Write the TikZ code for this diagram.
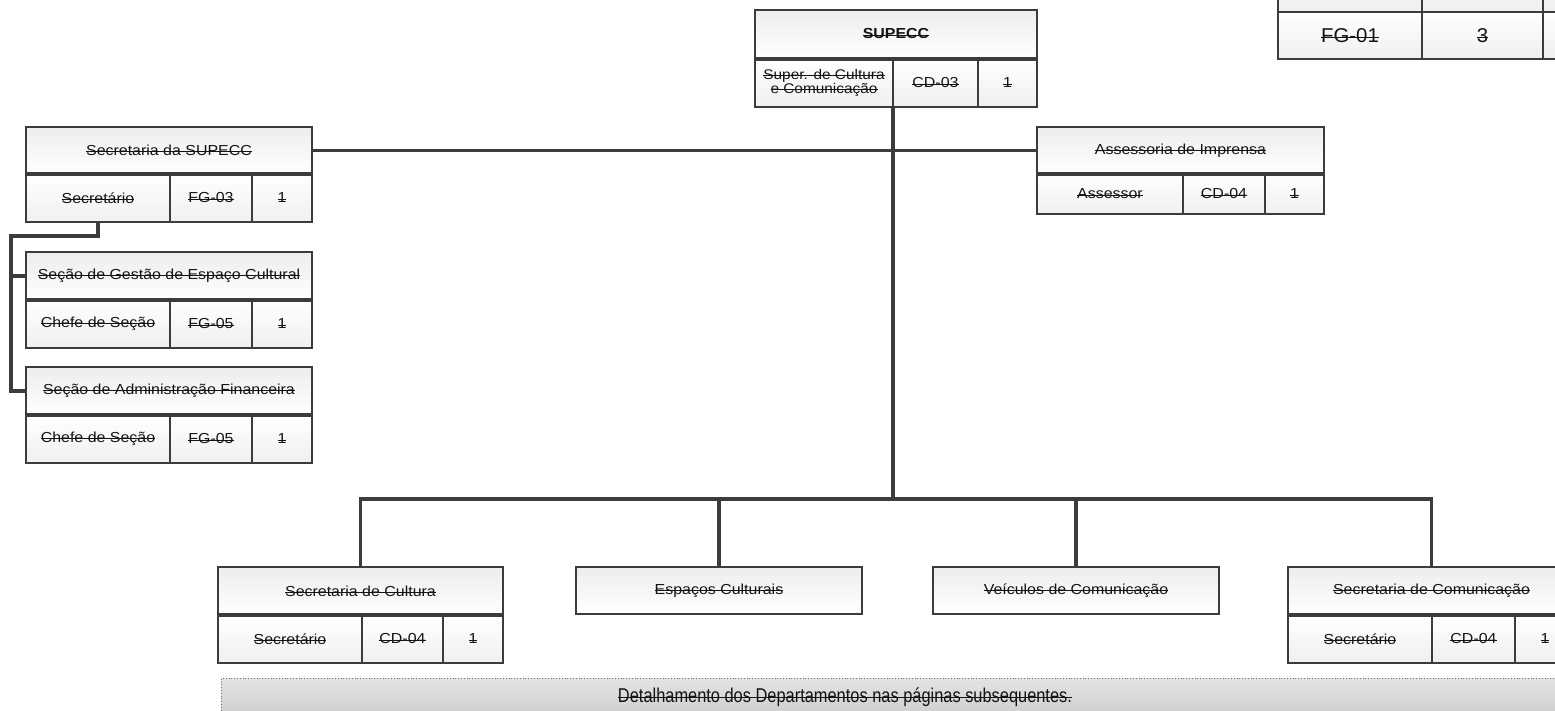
\documentclass[tikz,border=0pt]{standalone}
\usepackage{fontspec}
\newfontfamily\boxfont[FakeStretch=1.1]{Liberation Sans}
\newfontfamily\bigfont[FakeStretch=1.02]{Liberation Sans}
\newfontfamily\banfont[FakeStretch=0.82]{Liberation Sans}
\newcommand{\strk}[1]{\setbox0\hbox{#1}\rlap{\rule[0.45ex]{\wd0}{0.9pt}}\box0}
\definecolor{linec}{HTML}{3C3C3C}
\definecolor{txtc}{HTML}{141414}
\tikzset{
  cellbase/.style={draw=linec, line width=1.3pt, anchor=north west, inner sep=0pt, outer sep=0pt,
    font=\boxfont\fontsize{14.5}{16}\selectfont, text=txtc, align=center},
  hdr/.style={cellbase, top color=black!7, bottom color=white},
  cell/.style={cellbase, top color=white, bottom color=black!6},
  sep/.style={draw=linec, line width=4pt},
  conn/.style={draw=linec, line width=3.2pt},
  banner/.style={draw=black!55, dotted, line width=0.8pt, top color=black!11, bottom color=black!22}
}
\begin{document}
\begin{tikzpicture}[x=1pt,y=-1pt]
\useasboundingbox (0,0) rectangle (1555,711);
\fill[white] (0,0) rectangle (1555,711);
\clip (0,0) rectangle (1555,711);

% top-right table (partially visible)
\node[cell, minimum width=144, minimum height=52] (t0) at (1278,-40) {};
\node[cell, minimum width=121, minimum height=52] (t0b) at (1422,-40) {};
\node[cell, minimum width=80, minimum height=52] (t0c) at (1543,-40) {};
\node[cell, minimum width=144, minimum height=47, font=\bigfont\fontsize{20}{22}\selectfont] (t1) at (1278,12) {\strk{FG-01}};
\node[cell, minimum width=121, minimum height=47, font=\bigfont\fontsize{20}{22}\selectfont] (t2) at (1422,12) {\strk{3}};
\node[cell, minimum width=80, minimum height=47] (t3) at (1543,12) {};
\draw[sep, line width=2.5pt] (t1.north west) -- (t3.north east);

% SUPECC
\node[hdr, minimum width=282, minimum height=48] (sup) at (755,10) {\bfseries\strk{SUPECC}};
\node[cell, minimum width=138, minimum height=48, font=\boxfont\fontsize{14}{15}\selectfont] (s1) at (755,59) {\strk{Super. de Cultura}\\[-1pt]\strk{e Comunicação}};
\node[cell, minimum width=85, minimum height=48] (s2) at (893,59) {\strk{CD-03}};
\node[cell, minimum width=59, minimum height=48] (s3) at (978,59) {\strk{1}};
\draw[sep] (s1.north west) -- (s3.north east);

% Secretaria da SUPECC
\node[hdr, minimum width=286, minimum height=47] (sa) at (26,127) {\strk{Secretaria da SUPECC}};
\node[cell, minimum width=144, minimum height=48] (sa1) at (26,174) {\strk{Secretário}};
\node[cell, minimum width=82, minimum height=48] (sa2) at (170,174) {\strk{FG-03}};
\node[cell, minimum width=60, minimum height=48] (sa3) at (252,174) {\strk{1}};
\draw[sep] (sa1.north west) -- (sa3.north east);

% Secao de Gestao de Espaco Cultural
\node[hdr, minimum width=286, minimum height=48] (sg) at (26,252) {\strk{Seção de Gestão de Espaço Cultural}};
\node[cell, minimum width=144, minimum height=48] (sg1) at (26,300) {\strk{Chefe de Seção}};
\node[cell, minimum width=82, minimum height=48] (sg2) at (170,300) {\strk{FG-05}};
\node[cell, minimum width=60, minimum height=48] (sg3) at (252,300) {\strk{1}};
\draw[sep] (sg1.north west) -- (sg3.north east);

% Secao de Administracao Financeira
\node[hdr, minimum width=286, minimum height=48] (sf) at (26,367) {\strk{Seção de Administração Financeira}};
\node[cell, minimum width=144, minimum height=48] (sf1) at (26,415) {\strk{Chefe de Seção}};
\node[cell, minimum width=82, minimum height=48] (sf2) at (170,415) {\strk{FG-05}};
\node[cell, minimum width=60, minimum height=48] (sf3) at (252,415) {\strk{1}};
\draw[sep] (sf1.north west) -- (sf3.north east);

% Assessoria de Imprensa
\node[hdr, minimum width=287, minimum height=47] (as) at (1037,127) {\strk{Assessoria de Imprensa}};
\node[cell, minimum width=146, minimum height=40] (as1) at (1037,174) {\strk{Assessor}};
\node[cell, minimum width=82, minimum height=40] (as2) at (1183,174) {\strk{CD-04}};
\node[cell, minimum width=59, minimum height=40] (as3) at (1265,174) {\strk{1}};
\draw[sep] (as1.north west) -- (as3.north east);

% Secretaria de Cultura
\node[hdr, minimum width=285, minimum height=48] (sc) at (218,567) {\strk{Secretaria de Cultura}};
\node[cell, minimum width=144, minimum height=48] (sc1) at (218,615) {\strk{Secretário}};
\node[cell, minimum width=81, minimum height=48] (sc2) at (362,615) {\strk{CD-04}};
\node[cell, minimum width=60, minimum height=48] (sc3) at (443,615) {\strk{1}};
\draw[sep] (sc1.north west) -- (sc3.north east);

% Espacos Culturais
\node[hdr, minimum width=286, minimum height=47] (ec) at (576,567) {\strk{Espaços Culturais}};
% Veiculos de Comunicacao
\node[hdr, minimum width=286, minimum height=47] (vc) at (933,567) {\strk{Veículos de Comunicação}};

% Secretaria de Comunicacao
\node[hdr, minimum width=287, minimum height=48] (cm) at (1288,567) {\strk{Secretaria de Comunicação}};
\node[cell, minimum width=144, minimum height=48] (cm1) at (1288,615) {\strk{Secretário}};
\node[cell, minimum width=83, minimum height=48] (cm2) at (1432,615) {\strk{CD-04}};
\node[cell, minimum width=60, minimum height=48] (cm3) at (1515,615) {\strk{1}};
\draw[sep] (cm1.north west) -- (cm3.north east);

% banner
\node[banner, anchor=north west, minimum width=1400, minimum height=50, inner sep=0pt] (bn) at (221,678) {};
\node[font=\banfont\fontsize{20}{22}\selectfont, text=txtc, inner sep=0pt] (bt) at (845,697) {\strk{Detalhamento dos Departamentos nas páginas subsequentes.}};

% connectors
\draw[conn] (sa.east) -- (sa.east -| as.west);
\draw[conn] (s2.south west) -- ++(0,392) coordinate (busc);
\draw[conn] (sc.north) |- (busc) -| (cm.north);
\draw[conn] (ec.north) -- (ec.north |- busc);
\draw[conn] (vc.north) -- (vc.north |- busc);
\draw[conn] (sa1.south) -- ++(0,14) -| ([xshift=-15pt]sf.west) -- (sf.west);
\draw[conn] ([xshift=-15pt]sg.west) -- (sg.west);
\end{tikzpicture}
\end{document}
